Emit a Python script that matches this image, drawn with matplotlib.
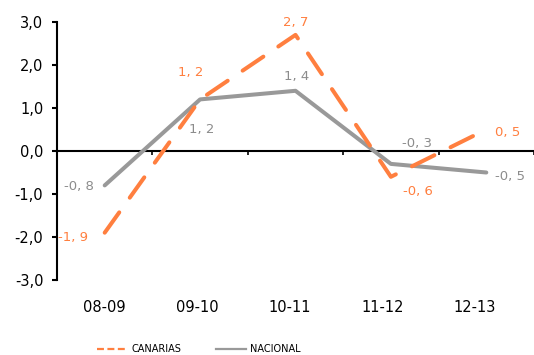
import matplotlib
matplotlib.use("Agg")
import matplotlib.pyplot as plt
import matplotlib.transforms as mtransforms
from matplotlib.lines import Line2D

plt.rcParams['font.family'] = ['DejaVu Sans']
plt.rcParams['lines.scale_dashes'] = False

categories = ['08-09', '09-10', '10-11', '11-12', '12-13']
canarias = [-1.9, 1.2, 2.7, -0.6, 0.5]
nacional = [-0.8, 1.2, 1.4, -0.3, -0.5]
y_ticks = [-3, -2, -1, 0, 1, 2, 3]

# label offsets in pixels
canarias_off = [(-32, -5), (-9, 27), (0, 12), (27, -15), (21, -3)]
nacional_off = [(-26, -1), (2, -30), (1, 14), (26, 20), (24, -4)]

orange = '#FF7F3F'
grey = '#999999'


def fmt(v):
    return ('%.1f' % v).replace('.', ', ')


fig = plt.figure(figsize=(5.34, 3.55), dpi=100)
ax = fig.add_axes([57 / 534, 1 - 280 / 355, 477 / 534, 258 / 355])

x = list(range(len(categories)))
ax.plot(x, nacional, color=grey, lw=2.9, solid_capstyle='round', solid_joinstyle='round', zorder=3)
ax.plot(x, canarias, color=orange, lw=2.9, dashes=(18, 13), dash_capstyle='round', zorder=4)

for i, v in enumerate(canarias):
    ax.annotate(fmt(v), (i, v), xytext=canarias_off[i], textcoords='offset pixels',
                ha='center', va='center', color=orange, fontsize=9.5)
for i, v in enumerate(nacional):
    ax.annotate(fmt(v), (i, v), xytext=nacional_off[i], textcoords='offset pixels',
                ha='center', va='center', color='#8c8c8c', fontsize=9.5)

ax.set_xlim(-0.5, len(categories) - 0.5)
ax.set_ylim(-3, 3)
ax.set_yticks(y_ticks)
ax.set_yticklabels([('%.1f' % t).replace('.', ',') for t in y_ticks], fontsize=10.5)
ax.tick_params(axis='y', direction='out', length=3.4, width=1.5, pad=6.5)

for s in ['top', 'right']:
    ax.spines[s].set_visible(False)
ax.spines['left'].set_linewidth(1.5)
ax.spines['bottom'].set_position(('data', 0))
ax.spines['bottom'].set_linewidth(1.5)
ax.set_xticks([i - 0.5 for i in range(len(categories) + 1)])
ax.tick_params(axis='x', direction='out', length=3, width=1.2, labelbottom=False)

trans = mtransforms.blended_transform_factory(ax.transData, fig.transFigure)
for i, c in enumerate(categories):
    ax.text(i - 0.03 * i, 1 - 307 / 355, c, transform=trans, ha='center', va='center', fontsize=10.5)

handles = [Line2D([], [], color=orange, lw=1.6, dashes=(5, 2.5)),
           Line2D([], [], color=grey, lw=1.6)]
fig.legend(handles, ['CANARIAS', 'NACIONAL'], loc='center', bbox_to_anchor=(199 / 534, 1 - 349 / 355),
           ncol=2, frameon=False, fontsize=7, handlelength=3.1, handletextpad=0.4,
           columnspacing=3.6, borderpad=0, borderaxespad=0)

fig.savefig('out.png', dpi=100)
